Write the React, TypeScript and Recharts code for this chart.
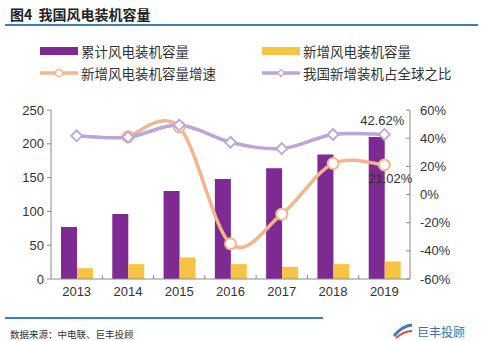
import React from 'react'
import { ComposedChart, Bar, Line, XAxis, YAxis, LabelList } from 'recharts'

const years = ['2013', '2014', '2015', '2016', '2017', '2018', '2019']
const cumulative = [77, 96, 130, 148, 164, 184, 210]
const added = [16, 22, 32, 22, 18, 22, 26]
const addedGrowth = [null, 0.41, 0.48, -0.35, -0.14, 0.22, 0.2102]
const globalShare = [0.417, 0.407, 0.493, 0.371, 0.326, 0.426, 0.4262]
const leftTicks = [0, 50, 100, 150, 200, 250]
const rightTicks = [-0.6, -0.4, -0.2, 0, 0.2, 0.4, 0.6]

const data = years.map((y, i) => ({
  year: y,
  cumulative: cumulative[i],
  added: added[i],
  growth: addedGrowth[i],
  share: globalShare[i],
}))

const PURPLE = '#7d2a93'
const YELLOW = '#f6c343'
const ORANGE = '#f3b58b'
const LAVENDER = '#bca5d8'
const AXIS = '#8a8a8a'
const FONT = 'Arial, "Liberation Sans", "Noto Sans CJK SC", sans-serif'
const CJK = '"Noto Sans CJK SC", sans-serif'

const pct = (v: number) => `${Math.round(v * 100)}%`

// excel-like smoothed line (catmull-rom), passed to Line as a curve factory
function smoothCurve(context: any) {
  let pts: number[][] = []
  return {
    areaStart() {},
    areaEnd() {},
    lineStart() {
      pts = []
    },
    point(x: number, y: number) {
      pts.push([+x, +y])
    },
    lineEnd() {
      if (!pts.length) return
      context.moveTo(pts[0][0], pts[0][1])
      for (let i = 0; i < pts.length - 1; i++) {
        const p0 = pts[Math.max(i - 1, 0)]
        const p1 = pts[i]
        const p2 = pts[i + 1]
        const p3 = pts[Math.min(i + 2, pts.length - 1)]
        context.bezierCurveTo(
          p1[0] + (p2[0] - p0[0]) / 6,
          p1[1] + (p2[1] - p0[1]) / 6,
          p2[0] - (p3[0] - p1[0]) / 6,
          p2[1] - (p3[1] - p1[1]) / 6,
          p2[0],
          p2[1]
        )
      }
    },
  }
}

// year label plus the small inner tick mark on the band boundary
function YearTick(props: any) {
  const { x, y, payload, index } = props
  const half = payload && payload.offset ? payload.offset : 0
  const axisY = y - 8
  return (
    <g>
      {half > 0 && index > 0 && (
        <line x1={x - half} x2={x - half} y1={axisY} y2={axisY - 4} stroke={AXIS} />
      )}
      <text x={x} y={y} dy="0.71em" textAnchor="middle" fontSize={13} fill="#333">
        {payload.value}
      </text>
    </g>
  )
}

function CircleDot(props: any) {
  const { cx, cy, value } = props
  if (value == null || cx == null || cy == null) return null
  return <circle cx={cx} cy={cy} r={5.5} fill="#fff" stroke={ORANGE} strokeWidth={2} />
}

function DiamondDot(props: any) {
  const { cx, cy } = props
  if (cx == null || cy == null) return null
  const r = 5.5
  return (
    <path
      d={`M${cx},${cy - r}L${cx + r},${cy}L${cx},${cy + r}L${cx - r},${cy}Z`}
      fill="#fff"
      stroke={LAVENDER}
      strokeWidth={1.8}
    />
  )
}

// legend drawn by hand, two rows like the source image
function LegendBox() {
  const item = (label: string, swatch: React.ReactNode, x: number, y: number) => (
    <div style={{ position: 'absolute', left: x, top: y, display: 'flex', alignItems: 'center' }}>
      <svg width={38} height={10}>{swatch}</svg>
      <span style={{ marginLeft: 3, fontSize: 13.5, color: '#333', fontFamily: CJK }}>{label}</span>
    </div>
  )
  const lineSwatch = (c: string, shape: 'c' | 'd') => (
    <g>
      <line x1={0} y1={5} x2={38} y2={5} stroke={c} strokeWidth={3.5} />
      {shape === 'c' ? (
        <circle cx={19} cy={5} r={3.5} fill="#fff" stroke={c} strokeWidth={1.5} />
      ) : (
        <path d="M19,1.5L22.5,5L19,8.5L15.5,5Z" fill="#fff" stroke={c} strokeWidth={1.2} />
      )}
    </g>
  )
  return (
    <div style={{ position: 'absolute', left: 0, top: 41, width: 483, height: 50 }}>
      {item('累计风电装机容量', <rect x={0} y={1} width={38} height={8} fill={PURPLE} />, 40, 0)}
      {item('新增风电装机容量', <rect x={0} y={1} width={38} height={8} fill={YELLOW} />, 262, 0)}
      {item('新增风电装机容量增速', lineSwatch(ORANGE, 'c'), 40, 22)}
      {item('我国新增装机占全球之比', lineSwatch(LAVENDER, 'd'), 262, 22)}
    </div>
  )
}

export default function App() {
  return (
    <div style={{ position: 'absolute', left: 0, top: 0, width: 483, height: 341, background: '#fff', fontFamily: FONT }}>
      <div style={{ position: 'absolute', left: 10, top: 4, fontSize: 14, fontWeight: 'bold', color: '#222', fontFamily: CJK }}>
        图4&nbsp;&nbsp;我国风电装机容量
      </div>
      <div style={{ position: 'absolute', left: 5, top: 24, width: 473, height: 2, background: '#3b7fb5' }} />
      <LegendBox />

      <div style={{ position: 'absolute', left: 0, top: 0 }}>
        <ComposedChart
          width={483}
          height={341}
          data={data}
          margin={{ top: 110, right: 0, bottom: 32, left: 0 }}
          barGap={0}
          barCategoryGap="19%"
        >
          <XAxis
            dataKey="year"
            tick={<YearTick />}
            axisLine={{ stroke: AXIS }}
            tickLine={false}
            tickSize={0}
            tickMargin={8}
            height={30}
            interval={0}
          />
          <YAxis
            yAxisId="left"
            domain={[0, 250]}
            ticks={leftTicks}
            width={51}
            tick={{ fill: '#333', fontSize: 13 }}
            axisLine={{ stroke: AXIS }}
            tickLine={{ stroke: AXIS }}
            tickSize={4}
            tickMargin={3}
            interval={0}
          />
          <YAxis
            yAxisId="right"
            orientation="right"
            domain={[-0.6, 0.6]}
            ticks={rightTicks}
            tickFormatter={pct}
            width={73}
            tick={{ fill: '#333', fontSize: 13, textAnchor: 'start' }}
            axisLine={{ stroke: AXIS }}
            tickLine={{ stroke: AXIS }}
            tickSize={-4}
            tickMargin={14}
            interval={0}
          />
          <Bar yAxisId="left" dataKey="cumulative" fill={PURPLE} barSize={16} isAnimationActive={false} />
          <Bar yAxisId="left" dataKey="added" fill={YELLOW} barSize={16} isAnimationActive={false} />
          <Line
            yAxisId="right"
            type={smoothCurve as any}
            dataKey="growth"
            stroke={ORANGE}
            strokeWidth={3.5}
            dot={<CircleDot />}
            activeDot={false}
            connectNulls
            isAnimationActive={false}
          >
            <LabelList
              dataKey="growth"
              content={(p: any) =>
                p.index === 6 ? (
                  <text x={p.x + 6} y={p.y + 18} textAnchor="middle" fontSize={13} fill="#333">
                    21.02%
                  </text>
                ) : null
              }
            />
          </Line>
          <Line
            yAxisId="right"
            type={smoothCurve as any}
            dataKey="share"
            stroke={LAVENDER}
            strokeWidth={3.5}
            dot={<DiamondDot />}
            activeDot={false}
            isAnimationActive={false}
          >
            <LabelList
              dataKey="share"
              content={(p: any) =>
                p.index === 6 ? (
                  <text x={p.x - 2} y={p.y - 9} textAnchor="middle" fontSize={13} fill="#333">
                    42.62%
                  </text>
                ) : null
              }
            />
          </Line>
        </ComposedChart>
      </div>

      <div style={{ position: 'absolute', left: 5, top: 317, width: 318, height: 2, background: '#3b7fb5' }} />
      <div style={{ position: 'absolute', left: 10, top: 327, fontSize: 9.5, color: '#333', fontFamily: CJK }}>
        数据来源：中电联、巨丰投顾
      </div>
      <div style={{ position: 'absolute', left: 392, top: 322, display: 'flex', alignItems: 'center' }}>
        <svg width={22} height={18}>
          <path d="M2,14 Q10,4 20,3" stroke="#3b7fb5" strokeWidth={3} fill="none" />
          <path d="M4,16 Q12,9 20,9" stroke="#e04b3a" strokeWidth={2} fill="none" />
        </svg>
        <span style={{ fontSize: 12, color: '#3b6fa5', fontFamily: CJK, marginLeft: 3 }}>巨丰投顾</span>
      </div>
    </div>
  )
}
